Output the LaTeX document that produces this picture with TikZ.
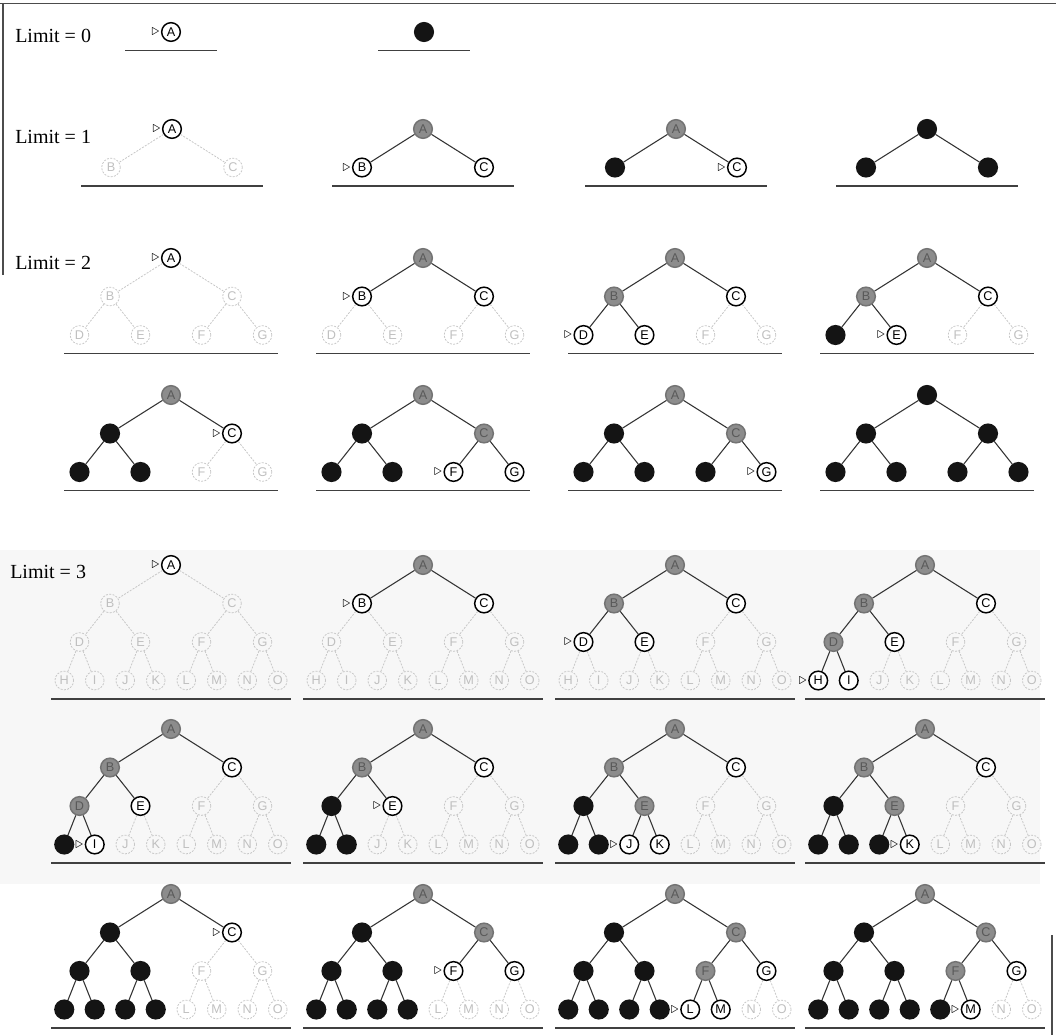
\documentclass[tikz,border=0pt]{standalone}
\usepackage{fontspec}
\setmainfont{Liberation Serif}
\setsansfont{Liberation Sans}

\tikzset{
  treenode/.style={circle, minimum size=14pt, inner sep=0pt, line width=1.1pt,
    font=\sffamily\fontsize{9.5}{9.5}\selectfont},
  frontier/.style={treenode, draw=black, fill=white},
  current/.style={frontier, label={[inner sep=0pt, label distance=1pt,
    font=\fontsize{12}{12}\selectfont]left:{$\triangleright$}}},
  expanded/.style={treenode, draw=black!55, fill=black!45, text=black!65},
  explored/.style={treenode, draw=black!92, fill=black!92, text=black!92},
  unseen/.style={treenode, draw=black!22, line width=0.6pt,
    dash pattern=on 1.5pt off 1pt, text=black!25},
  line-frontier/.style={line width=0.8pt, draw=black!80},
  line-current/.style={line-frontier},
  line-expanded/.style={line-frontier},
  line-explored/.style={line-frontier},
  line-unseen/.style={draw=black!22, line width=0.6pt, dash pattern=on 1.5pt off 1pt},
  groundline/.style={line width=1.1pt, draw=black!75},
  frameline/.style={line width=0.9pt, draw=black!70},
  limitlabel/.style={anchor=west, inner sep=0pt, font=\fontsize{15}{15}\selectfont}
}

% #1 name, #2 position of the root, #3 depth limit, #4 states in breadth-first order
\newcommand\searchtree[4]{%
  \begin{scope}[shift={(#2)}]
    \foreach \st [count=\i] in {#4} {
      \pgfmathtruncatemacro\lvl{(\i>1)+(\i>3)+(\i>7)}
      \pgfmathsetmacro\px{(\i-2^\lvl+0.5)*244/2^\lvl-122}
      \edef\letter{\ifcase\i\or A\or B\or C\or D\or E\or F\or G\or H\or I\or J\or K\or L\or M\or N\or O\fi}
      \node[\st] (#1-\i) at (\px,\lvl*38.5) {\letter};
      \ifnum\i>1
        \pgfmathtruncatemacro\up{\i/2}
        \edef\lk{line-\st}
        \draw[\lk] (#1-\up) -- (#1-\i);
      \fi
    }
    \pgfmathsetmacro\hw{{46,91,107,120}[#3]}
    \draw[groundline] (-\hw,#3*38.5+18.5) -- (\hw,#3*38.5+18.5);
  \end{scope}}

\begin{document}
\begin{tikzpicture}[x=0.75pt, y=-0.75pt]
  \useasboundingbox (0,0) rectangle (1056,1035);
  \fill[black!3] (0,550) rectangle (1040,884);
  \draw[frameline] (0,3.5) -- (1056,3.5);
  \draw[frameline] (3,3.5) -- (3,275);
  \draw[frameline] (1052,935) -- (1052,1035);

  \node[limitlabel] (lim0) at (15,36) {Limit = 0};
  \node[limitlabel] (lim1) at (15,137) {Limit = 1};
  \node[limitlabel] (lim2) at (15,263) {Limit = 2};
  \node[limitlabel] (lim3) at (10,572) {Limit = 3};

  % limit 0
  \searchtree{l0a}{171,32}{0}{current}
  \searchtree{l0b}{424,32}{0}{explored}

  % limit 1
  \searchtree{l1a}{172,129}{1}{current,unseen,unseen}
  \searchtree{l1b}{423,129}{1}{expanded,current,frontier}
  \searchtree{l1c}{676,129}{1}{expanded,explored,current}
  \searchtree{l1d}{927,129}{1}{explored,explored,explored}

  % limit 2
  \searchtree{l2a}{171,258}{2}{current,unseen,unseen,unseen,unseen,unseen,unseen}
  \searchtree{l2b}{423,258}{2}{expanded,current,frontier,unseen,unseen,unseen,unseen}
  \searchtree{l2c}{675,258}{2}{expanded,expanded,frontier,current,frontier,unseen,unseen}
  \searchtree{l2d}{927,258}{2}{expanded,expanded,frontier,explored,current,unseen,unseen}
  \searchtree{l2e}{171,395}{2}{expanded,explored,current,explored,explored,unseen,unseen}
  \searchtree{l2f}{423,395}{2}{expanded,explored,expanded,explored,explored,current,frontier}
  \searchtree{l2g}{675,395}{2}{expanded,explored,expanded,explored,explored,explored,current}
  \searchtree{l2h}{927,395}{2}{explored,explored,explored,explored,explored,explored,explored}

  % limit 3
  \searchtree{l3a}{171,565}{3}{current,unseen,unseen,unseen,unseen,unseen,unseen,unseen,unseen,unseen,unseen,unseen,unseen,unseen,unseen}
  \searchtree{l3b}{423,565}{3}{expanded,current,frontier,unseen,unseen,unseen,unseen,unseen,unseen,unseen,unseen,unseen,unseen,unseen,unseen}
  \searchtree{l3c}{675,565}{3}{expanded,expanded,frontier,current,frontier,unseen,unseen,unseen,unseen,unseen,unseen,unseen,unseen,unseen,unseen}
  \searchtree{l3d}{925,565}{3}{expanded,expanded,frontier,expanded,frontier,unseen,unseen,current,frontier,unseen,unseen,unseen,unseen,unseen,unseen}
  \searchtree{l3e}{171,729}{3}{expanded,expanded,frontier,expanded,frontier,unseen,unseen,explored,current,unseen,unseen,unseen,unseen,unseen,unseen}
  \searchtree{l3f}{423,729}{3}{expanded,expanded,frontier,explored,current,unseen,unseen,explored,explored,unseen,unseen,unseen,unseen,unseen,unseen}
  \searchtree{l3g}{675,729}{3}{expanded,expanded,frontier,explored,expanded,unseen,unseen,explored,explored,current,frontier,unseen,unseen,unseen,unseen}
  \searchtree{l3h}{925,729}{3}{expanded,expanded,frontier,explored,expanded,unseen,unseen,explored,explored,explored,current,unseen,unseen,unseen,unseen}
  \searchtree{l3i}{171,894}{3}{expanded,explored,current,explored,explored,unseen,unseen,explored,explored,explored,explored,unseen,unseen,unseen,unseen}
  \searchtree{l3j}{423,894}{3}{expanded,explored,expanded,explored,explored,current,frontier,explored,explored,explored,explored,unseen,unseen,unseen,unseen}
  \searchtree{l3k}{675,894}{3}{expanded,explored,expanded,explored,explored,expanded,frontier,explored,explored,explored,explored,current,frontier,unseen,unseen}
  \searchtree{l3l}{925,894}{3}{expanded,explored,expanded,explored,explored,expanded,frontier,explored,explored,explored,explored,explored,current,unseen,unseen}
\end{tikzpicture}
\end{document}
